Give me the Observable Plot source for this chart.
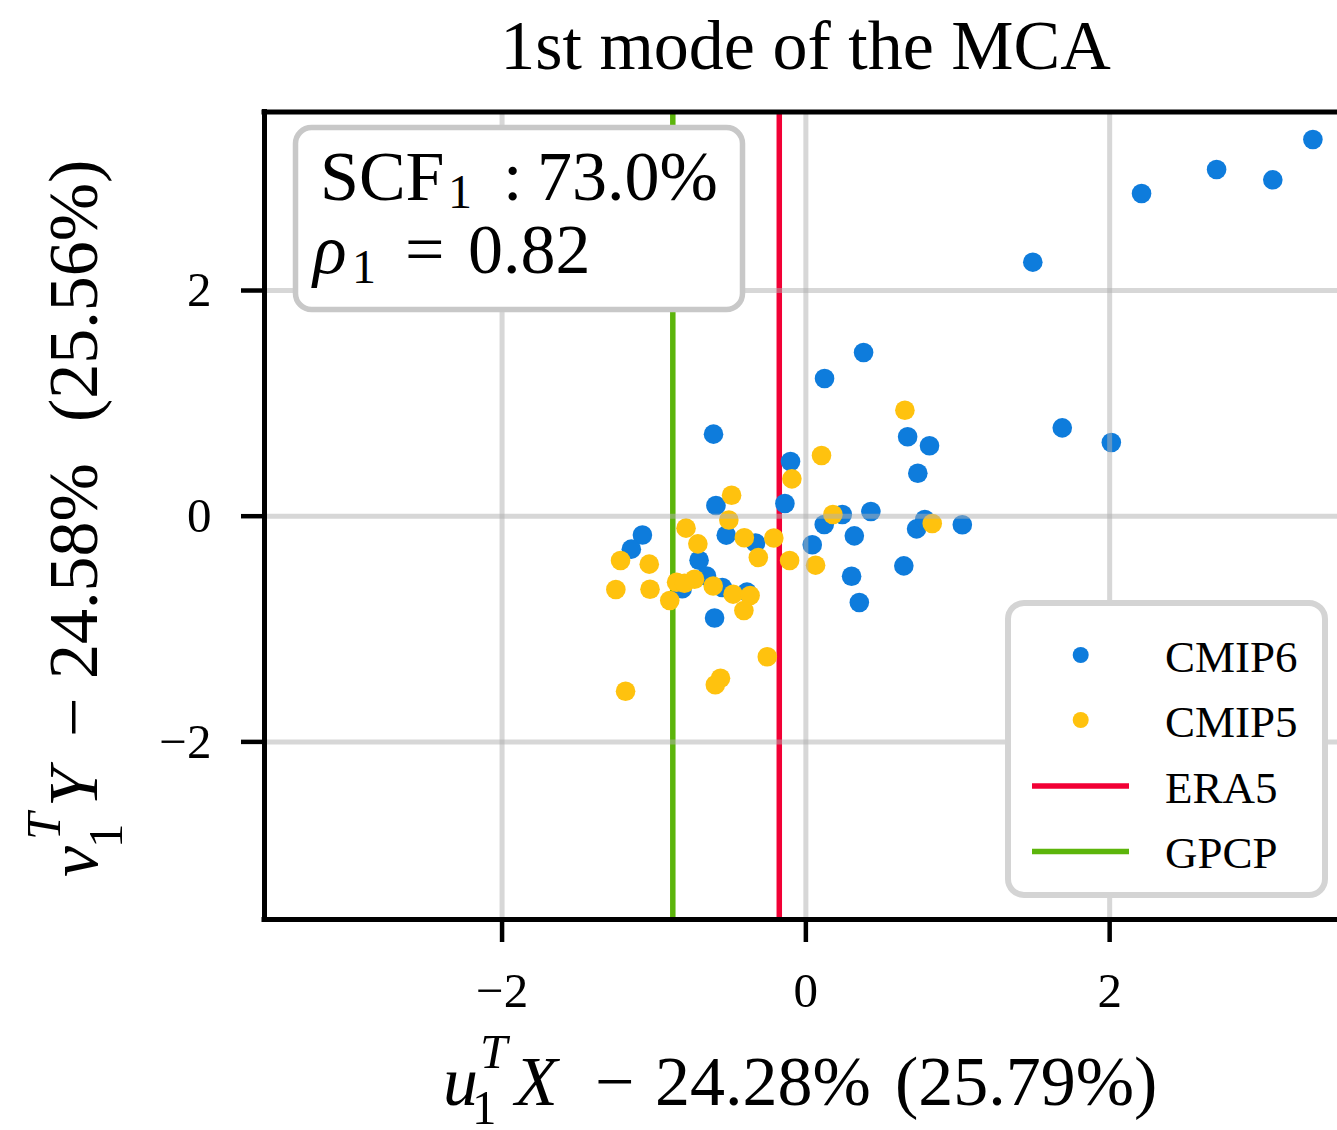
<!DOCTYPE html>
<html>
<head>
<meta charset="utf-8">
<script src="https://cdn.jsdelivr.net/npm/d3@7"></script>
<script src="https://cdn.jsdelivr.net/npm/@observablehq/plot@0.6"></script>
<style>
  html, body { margin: 0; padding: 0; background: white; overflow: hidden; }
  #chart svg { display: block; }
</style>
</head>
<body>
<div id="chart"></div>
<script>
// ---------------- data ----------------
const cmip6X = [-0.608, -0.101, -0.138, -0.592, -0.524, -0.331, -1.076, -1.149, -0.703, -0.654,
                -0.814, -0.550, -0.388, -0.601, 0.042, 0.121, 0.240, 0.428, 0.319, 0.301,
                0.352, 0.670, 0.814, 0.737, 0.729, 0.783, 1.030, 0.645, 0.123, 0.380,
                1.494, 2.210, 2.704, 3.074, 3.338, 1.688, 2.011];
const cmip6Y = [0.727, 0.485, 0.113, 0.095, -0.168, -0.237, -0.167, -0.292, -0.390, -0.530,
                -0.643, -0.632, -0.673, -0.902, -0.253, -0.074, 0.015, 0.042, -0.174, -0.532,
                -0.765, 0.704, 0.624, 0.381, -0.112, -0.029, -0.076, -0.440, 1.220, 1.451,
                2.251, 2.860, 3.072, 2.981, 3.338, 0.783, 0.653];
const cmip5X = [0.652, 0.103, -0.092, -0.489, -0.507, -0.789, -0.711, -0.405, -0.211, -0.313,
                -0.107, 0.064, 0.178, 0.832, -1.220, -1.031, -1.251, -1.026, -0.896, -0.851,
                -0.733, -0.799, -0.610, -0.479, -0.367, -0.408, -0.254, -0.562, -0.596, -1.187];
const cmip5Y = [0.939, 0.538, 0.331, 0.186, -0.034, -0.106, -0.245, -0.191, -0.193, -0.366,
                -0.393, -0.434, 0.015, -0.065, -0.393, -0.425, -0.650, -0.647, -0.747, -0.585,
                -0.559, -0.594, -0.619, -0.691, -0.703, -0.836, -1.246, -1.436, -1.494, -1.551];
const era5X = [-0.175];
const gpcpX = [-0.876];
const xTicks = [-2, 0, 2];
const yTicks = [-2, 0, 2];
const xDomain = [-3.564, 3.500];
const yDomain = [-3.574, 3.582];
const seriesNames = ["CMIP6", "CMIP5", "ERA5", "GPCP"];
const seriesColors = ["#0e7cdc", "#ffc20e", "#f20035", "#5cb50b"];
const titleText = "1st mode of the MCA";
const scfValue = "73.0%";
const rhoValue = "0.82";
const xLabelParts = ["24.28%", "(25.79%)"];
const yLabelParts = ["24.58%", "(25.56%)"];

// ---------------- chart ----------------
const cmip6 = cmip6X.map((x, i) => ({x, y: cmip6Y[i]}));
const cmip5 = cmip5X.map((x, i) => ({x, y: cmip5Y[i]}));
const FONT = "'Liberation Serif', 'Times New Roman', serif";
const fmt = d => (d < 0 ? "\u2212" : "") + Math.abs(d);

const svg = Plot.plot({
  width: 1337,
  height: 1130,
  marginLeft: 264,
  marginRight: 0,
  marginTop: 111.5,
  marginBottom: 211,
  x: {domain: xDomain},
  y: {domain: yDomain},
  style: {fontFamily: FONT, background: "white", color: "black"},
  marks: [
    Plot.ruleX(gpcpX, {stroke: seriesColors[3], strokeWidth: 5.5}),
    Plot.ruleX(era5X, {stroke: seriesColors[2], strokeWidth: 5.5}),
    Plot.dot(cmip6, {x: "x", y: "y", r: 9.8, fill: seriesColors[0], stroke: null}),
    Plot.dot(cmip5, {x: "x", y: "y", r: 9.8, fill: seriesColors[1], stroke: null}),
    Plot.ruleX(xTicks, {stroke: "#b0b0b0", strokeOpacity: 0.5, strokeWidth: 5}),
    Plot.ruleY(yTicks, {stroke: "#b0b0b0", strokeOpacity: 0.5, strokeWidth: 5}),
    Plot.ruleX([xDomain[0]], {stroke: "black", strokeWidth: 5, strokeLinecap: "square"}),
    Plot.ruleY(yDomain, {stroke: "black", strokeWidth: 5, strokeLinecap: "square"}),
    Plot.axisX({ticks: xTicks, tickFormat: fmt, tickSize: 23, tickPadding: 30, fontSize: 49, strokeWidth: 4.5, label: null}),
    Plot.axisY({ticks: yTicks, tickFormat: fmt, tickSize: 23, tickPadding: 30, fontSize: 49, strokeWidth: 4.5, label: null})
  ]
});

document.getElementById("chart").appendChild(svg);

// ---------------- annotations (text, boxes, legend) ----------------
const s = d3.select(svg);
const g = s.append("g").attr("font-family", FONT).attr("fill", "black").attr("text-anchor", "start");

// title
g.append("text").attr("x", 805.5).attr("y", 69).attr("text-anchor", "middle")
  .attr("font-size", 70).text(titleText);

// x label
const xl = g.append("text").attr("font-size", 70);
xl.append("tspan").attr("x", 443).attr("y", 1105).attr("font-style", "italic").text("u");
xl.append("tspan").attr("x", 480).attr("y", 1068).attr("font-size", 49).attr("font-style", "italic").text("T");
xl.append("tspan").attr("x", 472).attr("y", 1124).attr("font-size", 49).text("1");
xl.append("tspan").attr("x", 515).attr("y", 1105).attr("font-style", "italic").text("X");
xl.append("tspan").attr("x", 595).attr("y", 1105).text("\u2212");
xl.append("tspan").attr("x", 655).attr("y", 1105).text(xLabelParts[0]);
xl.append("tspan").attr("x", 895).attr("y", 1105).text(xLabelParts[1]);

// y label (rotated)
const yl = g.append("text").attr("font-size", 70).attr("transform", "translate(97,877) rotate(-90)");
yl.append("tspan").attr("x", 0).attr("y", 0).attr("font-style", "italic").text("v");
yl.append("tspan").attr("x", 37).attr("y", -37).attr("font-size", 49).attr("font-style", "italic").text("T");
yl.append("tspan").attr("x", 29).attr("y", 25).attr("font-size", 49).text("1");
yl.append("tspan").attr("x", 70).attr("y", 0).attr("font-style", "italic").text("Y");
yl.append("tspan").attr("x", 140).attr("y", 0).text("\u2212");
yl.append("tspan").attr("x", 198).attr("y", 0).text(yLabelParts[0]);
yl.append("tspan").attr("x", 455).attr("y", 0).text(yLabelParts[1]);

// SCF / rho box
g.append("rect").attr("x", 295.5).attr("y", 127.5).attr("width", 447).attr("height", 182)
  .attr("rx", 16).attr("fill", "white").attr("stroke", "#c8c8c8").attr("stroke-width", 5.5);
const t1 = g.append("text").attr("font-size", 70);
t1.append("tspan").attr("x", 320).attr("y", 200).text("SCF");
t1.append("tspan").attr("x", 448).attr("y", 208).attr("font-size", 48).text("1");
t1.append("tspan").attr("x", 503).attr("y", 200).text(":");
t1.append("tspan").attr("x", 537).attr("y", 200).text(scfValue);
const t2 = g.append("text").attr("font-size", 70);
t2.append("tspan").attr("x", 313).attr("y", 273).attr("font-style", "italic").text("\u03C1");
t2.append("tspan").attr("x", 352).attr("y", 283).attr("font-size", 48).text("1");
t2.append("tspan").attr("x", 405).attr("y", 273).text("=");
t2.append("tspan").attr("x", 468).attr("y", 273).text(rhoValue);

// legend
g.append("rect").attr("x", 1008).attr("y", 603).attr("width", 317).attr("height", 292)
  .attr("rx", 16).attr("fill", "white").attr("stroke", "#d4d4d4").attr("stroke-width", 6);
const rowY = [655, 720, 786, 851.5];
seriesNames.forEach((name, i) => {
  if (i < 2) {
    g.append("circle").attr("cx", 1080.7).attr("cy", rowY[i]).attr("r", 8).attr("fill", seriesColors[i]);
  } else {
    g.append("line").attr("x1", 1032).attr("x2", 1129).attr("y1", rowY[i]).attr("y2", rowY[i])
      .attr("stroke", seriesColors[i]).attr("stroke-width", 5.3);
  }
  g.append("text").attr("x", 1165).attr("y", rowY[i] + 16.5).attr("font-size", 45).text(name);
});
</script>
</body>
</html>
